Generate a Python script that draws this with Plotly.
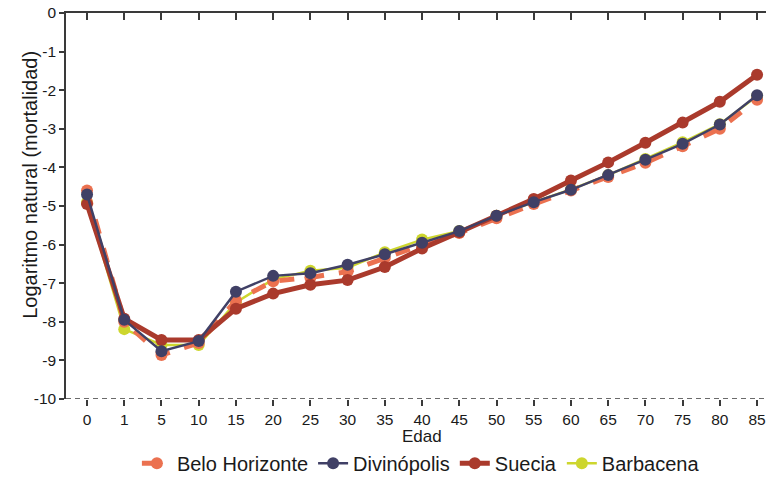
import plotly.graph_objects as go

edad = ["0", "1", "5", "10", "15", "20", "25", "30", "35", "40", "45",
        "50", "55", "60", "65", "70", "75", "80", "85"]

belo_horizonte = [-4.6, -8.0, -8.86, -8.55, -7.45, -6.95, -6.85, -6.7, -6.35, -6.0,
                  -5.7, -5.32, -4.95, -4.6, -4.25, -3.88, -3.45, -3.0, -2.25]
divinopolis = [-4.7, -7.95, -8.76, -8.5, -7.22, -6.81, -6.74, -6.52, -6.25, -5.95,
               -5.65, -5.25, -4.9, -4.58, -4.2, -3.8, -3.39, -2.89, -2.13]
suecia = [-4.95, -7.92, -8.47, -8.47, -7.66, -7.27, -7.04, -6.92, -6.58, -6.1,
          -5.68, -5.25, -4.82, -4.34, -3.87, -3.36, -2.84, -2.3, -1.6]
barbacena = [-4.9, -8.19, -8.6, -8.6, -7.5, -6.9, -6.68, -6.6, -6.2, -5.87,
             -5.65, -5.25, -4.9, -4.57, -4.2, -3.78, -3.35, -2.88, -2.15]

y_ticks = list(range(-10, 1))

FONT = "Liberation Sans, Arial, sans-serif"
AXC = "#3a3a3a"
TXT = "#1a1a1a"

fig = go.Figure()

fig.add_trace(go.Scatter(x=edad, y=barbacena, name="Barbacena", mode="lines+markers",
                         line=dict(color="#CDD62E", width=2.5), legendgroup="d",
                         marker=dict(size=12, color="#CDD62E"), legendrank=4))
fig.add_trace(go.Scatter(x=edad, y=belo_horizonte, name="Belo Horizonte", mode="lines+markers",
                         line=dict(color="#EB7150", width=5, dash="dash"), legendgroup="a",
                         marker=dict(size=12, color="#EB7150"), legendrank=1))
fig.add_trace(go.Scatter(x=edad, y=suecia, name="Suecia", mode="lines+markers",
                         line=dict(color="#AA3A2C", width=5), legendgroup="c",
                         marker=dict(size=12, color="#AA3A2C"), legendrank=3))
fig.add_trace(go.Scatter(x=edad, y=divinopolis, name="Divinópolis", mode="lines+markers",
                         line=dict(color="#404066", width=2.5), legendgroup="b",
                         marker=dict(size=12, color="#404066"), legendrank=2))

xr = [-0.565, 18.24]

fig.update_layout(
    width=766, height=478,
    margin=dict(l=66, r=0, t=13, b=79),
    paper_bgcolor="white", plot_bgcolor="white",
    font=dict(family=FONT, size=15.5, color=TXT),
    xaxis=dict(type="category", categoryorder="array", categoryarray=edad,
               range=xr, showline=False, showgrid=False, zeroline=False,
               automargin=False,
               ticks="outside", ticklen=6, tickwidth=1.5, tickcolor=AXC,
               tickfont=dict(size=15.5, family=FONT, color=TXT)),
    xaxis2=dict(overlaying="x", side="top", range=xr, type="linear",
                tickmode="array", tickvals=list(range(len(edad))),
                showticklabels=False, ticks="inside", ticklen=7, tickwidth=1.5,
                tickcolor=AXC, showline=True, linecolor=AXC, linewidth=1.5,
                showgrid=False, zeroline=False, automargin=False),
    yaxis=dict(range=[-10, 0], tickmode="array", tickvals=y_ticks,
               ticktext=[str(v) for v in y_ticks],
               showline=True, linecolor=AXC, linewidth=1.5, automargin=False,
               ticks="outside", ticklen=5, tickwidth=1.5, tickcolor=AXC,
               showgrid=False, zeroline=False,
               tickfont=dict(size=15.5, family=FONT, color=TXT)),
    legend=dict(orientation="h", xref="paper", x=0.507, xanchor="center",
                yref="container", y=0.031, yanchor="middle",
                font=dict(size=20, family=FONT, color=TXT),
                itemwidth=30, traceorder="grouped", tracegroupgap=12),
    showlegend=True,
)

# dummy trace to activate xaxis2
fig.add_trace(go.Scatter(x=[0], y=[None], xaxis="x2", showlegend=False, hoverinfo="skip"))

fig.add_shape(type="line", xref="paper", yref="y", x0=0, x1=1, y0=-10, y1=-10,
              line=dict(color=AXC, width=1.5, dash="5px,4px"))

fig.add_annotation(text="Edad", xref="paper", yref="paper", x=0.508, y=-0.098,
                   yanchor="middle", showarrow=False, font=dict(size=17, family=FONT, color=TXT))
fig.add_annotation(text="Logaritmo natural (mortalidad)", xref="paper", yref="paper",
                   x=-0.07, y=0.555, textangle=-90, showarrow=False,
                   font=dict(size=20, family=FONT, color=TXT))

fig.write_html("out.html", config={"displayModeBar": False},
               post_script="document.body.style.margin='0';document.body.style.overflow='hidden';")
